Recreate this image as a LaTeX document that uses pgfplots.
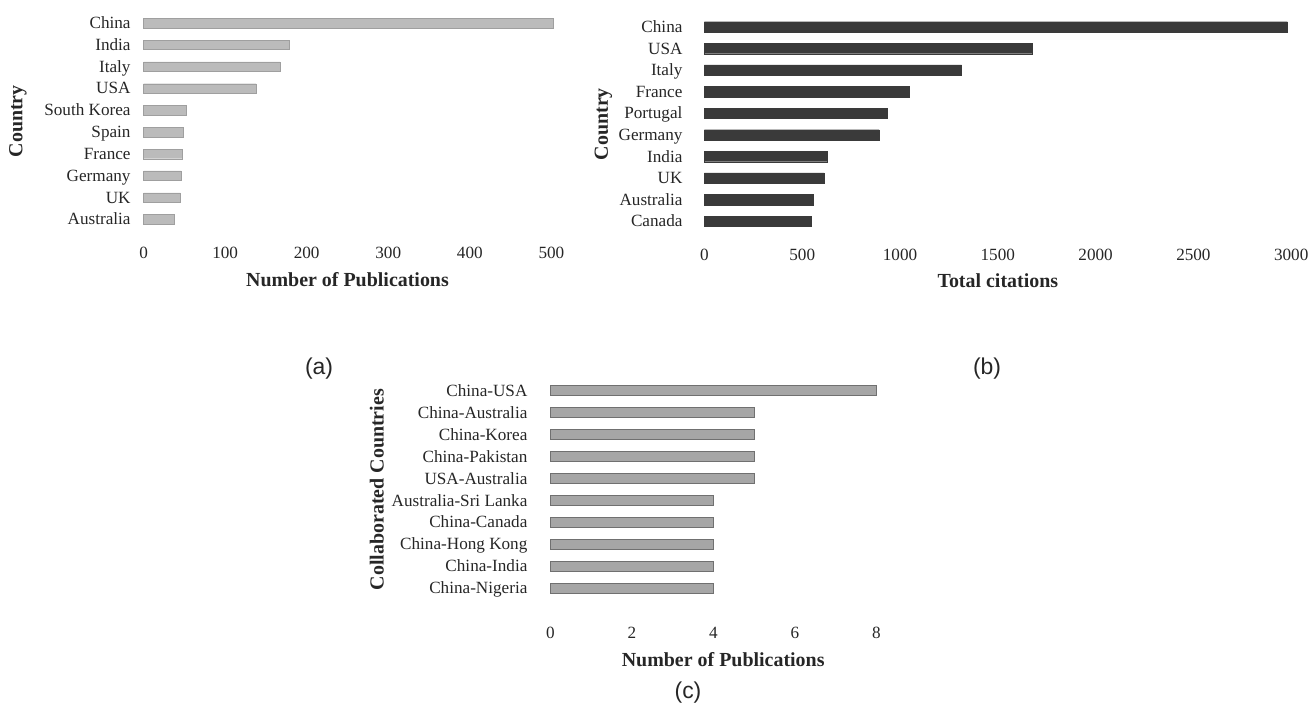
\documentclass[border=0pt]{standalone}
\usepackage{pgfplots}
\pgfplotsset{compat=1.18}
\usepackage{fontspec}
\setmainfont{Liberation Serif}
\newfontfamily\labelsans{Liberation Sans}
\definecolor{barA}{HTML}{BBBBBB}
\definecolor{barB}{HTML}{3A3A3A}
\definecolor{barC}{HTML}{A6A6A6}
\definecolor{edgeC}{HTML}{707070}
\begin{document}
\begin{tikzpicture}
\path (0,0) rectangle (657.5pt,354.5pt);
\pgfplotsset{
  hbar/.style={xbar, scale only axis, anchor=south west,
    axis line style={draw=none}, major tick length=0pt,
    ymin=-0.5, ymax=9.5, ytick={0,...,9}, xmin=0, clip=false,
    tick label style={font=\fontsize{8.6}{10}\selectfont, text=black!85},
    /pgf/number format/assume math mode=true,
    /pgf/number format/1000 sep={},
    xticklabel style={yshift=-5pt},
    yticklabel style={xshift=-3pt, text height=1.6ex, text depth=0.4ex},
    label style={font=\bfseries\fontsize{10}{12}\selectfont, text=black!85},
    xlabel style={anchor=center},
    ylabel style={anchor=center},
  }
}
% (a)
\begin{axis}[hbar, at={(72pt,239pt)}, width=204.5pt, height=109.4pt,
  xmax=500, xtick={0,100,...,500}, bar width=4.8pt,
  yticklabels={Australia,UK,Germany,France,Spain,South Korea,USA,Italy,India,China},
  xlabel={Number of Publications}, ylabel={Country},
  xlabel style={at={(axis description cs:0.5,-0.224)}},
  ylabel style={at={(axis description cs:-0.308,0.5)}}]
\addplot[fill=barA, draw=barA!85!black, line width=0.2pt] coordinates {
(37,0) (45,1) (46,2) (47,3) (49,4) (52,5) (138,6) (167,7) (178,8) (502,9)};
\end{axis}
% (b)
\begin{axis}[hbar, at={(353.25pt,238.1pt)}, width=294.25pt, height=108.3pt,
  xmax=3000, xtick={0,500,...,3000}, bar width=5.2pt,
  yticklabels={Canada,Australia,UK,India,Germany,Portugal,France,Italy,USA,China},
  yticklabel style={xshift=-4.5pt},
  xlabel={Total citations}, ylabel={Country},
  xlabel style={at={(axis description cs:0.5,-0.227)}},
  ylabel style={at={(axis description cs:-0.172,0.5)}}]
\addplot[fill=barB, draw=barB, line width=0.2pt] coordinates {
(547,0) (557,1) (612,2) (629,3) (893,4) (936,5) (1047,6) (1315,7) (1678,8) (2980,9)};
\end{axis}
% (c)
\begin{axis}[hbar, at={(276pt,54pt)}, width=163.5pt, height=110pt,
  xmax=8, xtick={0,2,...,8}, bar width=5pt,
  yticklabels={China-Nigeria,China-India,China-Hong Kong,China-Canada,Australia-Sri Lanka,USA-Australia,China-Pakistan,China-Korea,China-Australia,China-USA},
  yticklabel style={xshift=-5pt},
  xticklabel style={yshift=-5.5pt},
  xlabel={Number of Publications}, ylabel={Collaborated Countries},
  xlabel style={at={(axis description cs:0.53,-0.275)}},
  ylabel style={at={(axis description cs:-0.532,0.5)}}]
\addplot[fill=barC, draw=edgeC, line width=0.4pt] coordinates {
(4,0) (4,1) (4,2) (4,3) (4,4) (5,5) (5,6) (5,7) (5,8) (8,9)};
\end{axis}
\node[font=\labelsans\fontsize{11.5}{13}\selectfont, text=black!85] at (160pt,169.5pt) {(a)};
\node[font=\labelsans\fontsize{11.5}{13}\selectfont, text=black!85] at (495pt,169.5pt) {(b)};
\node[font=\labelsans\fontsize{11.5}{13}\selectfont, text=black!85] at (345pt,7pt) {(c)};
\end{tikzpicture}
\end{document}
